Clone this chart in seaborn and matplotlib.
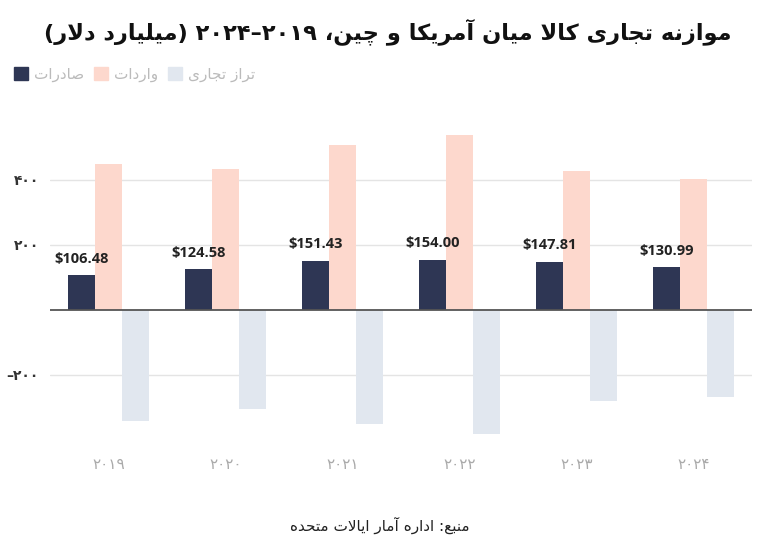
import matplotlib
matplotlib.use("Agg")
import matplotlib.pyplot as plt
import matplotlib.patches as mpatches
import pandas as pd
import seaborn as sns

# Data (billion USD)
years = [2019, 2020, 2021, 2022, 2023, 2024]
exports = [106.48, 124.58, 151.43, 154.00, 147.81, 130.99]
imports = [450, 432, 506, 537, 426, 402]
balance = [-341, -305, -350, -381, -279, -268]

series_names = ["صادرات", "واردات", "تراز تجاری"]
series_colors = ["#2e3654", "#fdd8cd", "#e1e7ef"]
y_ticks = [-200, 200, 400]

title_text = "موازنه تجاری کالا میان آمریکا و چین، ۲۰۱۹–۲۰۲۴ (میلیارد دلار)"
source_text = "منبع: اداره آمار ایالات متحده"

# --- minimal Persian shaping (matplotlib has no complex text layout) ---
FORMS = {
    "ا": (0xFE8D, 0xFE8E), "آ": (0xFE81, 0xFE82),
    "د": (0xFEA9, 0xFEAA), "ر": (0xFEAD, 0xFEAE),
    "ز": (0xFEAF, 0xFEB0), "و": (0xFEED, 0xFEEE),
    "ب": (0xFE8F, 0xFE90, 0xFE91, 0xFE92), "ت": (0xFE95, 0xFE96, 0xFE97, 0xFE98),
    "ج": (0xFE9D, 0xFE9E, 0xFE9F, 0xFEA0), "ح": (0xFEA1, 0xFEA2, 0xFEA3, 0xFEA4),
    "ص": (0xFEB9, 0xFEBA, 0xFEBB, 0xFEBC), "ع": (0xFEC9, 0xFECA, 0xFECB, 0xFECC),
    "ل": (0xFEDD, 0xFEDE, 0xFEDF, 0xFEE0), "م": (0xFEE1, 0xFEE2, 0xFEE3, 0xFEE4),
    "ن": (0xFEE5, 0xFEE6, 0xFEE7, 0xFEE8), "ه": (0xFEE9, 0xFEEA, 0xFEEB, 0xFEEC),
    "چ": (0xFB7A, 0xFB7B, 0xFB7C, 0xFB7D), "ک": (0xFB8E, 0xFB8F, 0xFB90, 0xFB91),
    "ی": (0xFBFC, 0xFBFD, 0xFBFE, 0xFBFF),
}
LAM_ALEF = {"ا": (0xFEFB, 0xFEFC), "آ": (0xFEF5, 0xFEF6)}
DIGITS = set("0123456789۰۱۲۳۴۵۶۷۸۹")
MIRROR = {"(": ")", ")": "("}


def dual(ch):
    return ch in FORMS and len(FORMS[ch]) == 4


def fa(text):
    """Shape Persian letters and return the string in visual (LTR) order."""
    out = []
    i = 0
    while i < len(text):
        ch = text[i]
        prev = text[i - 1] if i > 0 else ""
        nxt = text[i + 1] if i + 1 < len(text) else ""
        if ch not in FORMS:
            out.append(ch)
            i += 1
            continue
        join_prev = dual(prev)
        if ch == "ل" and nxt in LAM_ALEF:
            out.append(chr(LAM_ALEF[nxt][1 if join_prev else 0]))
            i += 2
            continue
        join_next = dual(ch) and nxt in FORMS
        f = FORMS[ch]
        if join_prev and join_next:
            out.append(chr(f[3]))
        elif join_next:
            out.append(chr(f[2]))
        elif join_prev:
            out.append(chr(f[1]))
        else:
            out.append(chr(f[0]))
        i += 1
    shaped = "".join(out)
    tokens = []
    for ch in shaped:
        if ch in DIGITS and tokens and tokens[-1][-1] in DIGITS:
            tokens[-1] += ch
        else:
            tokens.append(ch)
    return "".join(MIRROR.get(t, t) for t in reversed(tokens))


def fa_num(v):
    s = str(abs(int(v))).translate(str.maketrans("0123456789", "۰۱۲۳۴۵۶۷۸۹"))
    return ("–" if v < 0 else "") + s


year_labels = [fa_num(y) for y in years]
labels_vis = [fa(n) for n in series_names]

df = pd.DataFrame({
    "year": year_labels * 3,
    "series": [labels_vis[0]] * 6 + [labels_vis[1]] * 6 + [labels_vis[2]] * 6,
    "value": exports + imports + balance,
})

sns.set_theme(style="white")
plt.rcParams["font.family"] = ["DejaVu Sans"]

fig = plt.figure(figsize=(7.76, 5.56), dpi=100)
ax = fig.add_axes([50 / 776, 116 / 556, 702 / 776, 309 / 556])

sns.barplot(data=df, x="year", y="value", hue="series", hue_order=labels_vis,
            palette=series_colors, saturation=1, width=0.69, errorbar=None,
            legend=False, ax=ax, zorder=2, linewidth=0)

ax.set_xlim(-0.5, 5.5)
ax.set_ylim(-400, 550)
ax.set_yticks(y_ticks)
ax.set_yticklabels([fa_num(t) for t in y_ticks], fontsize=10, fontweight="bold", color="#333333")
ax.tick_params(axis="x", length=0, pad=12, labelsize=11, labelcolor="#aaaaaa")
ax.tick_params(axis="y", length=0, pad=8)
ax.set_xlabel("")
ax.set_ylabel("")
for s in ax.spines.values():
    s.set_visible(False)
for t in y_ticks:
    ax.axhline(t, color="#e4e4e4", lw=1, zorder=1)
ax.axhline(0, color="#555555", lw=1.3, zorder=3)

ax.bar_label(ax.containers[0], labels=[f"${v:.2f}" for v in exports], padding=7,
             fontsize=10.5, fontweight="bold", color="#222222",
             family=["Open Sans", "DejaVu Sans"])

fig.text(0.5, 1 - 32 / 556, fa(title_text), ha="center", va="center",
         fontsize=16.2, fontweight="bold", color="#111111")
fig.text(0.49, 1 - 525 / 556, fa(source_text), ha="center", va="center",
         fontsize=11, color="#222222")

handles = [mpatches.Patch(color=c, label=l) for c, l in zip(series_colors, labels_vis)]
fig.legend(handles=handles, loc="upper left", bbox_to_anchor=(0, 1 - 53 / 556),
           ncol=3, frameon=False, fontsize=11, labelcolor="#bbbbbb",
           handlelength=0.95, handleheight=0.95, handletextpad=0.4, columnspacing=0.6)

fig.savefig("out.png", dpi=100)
